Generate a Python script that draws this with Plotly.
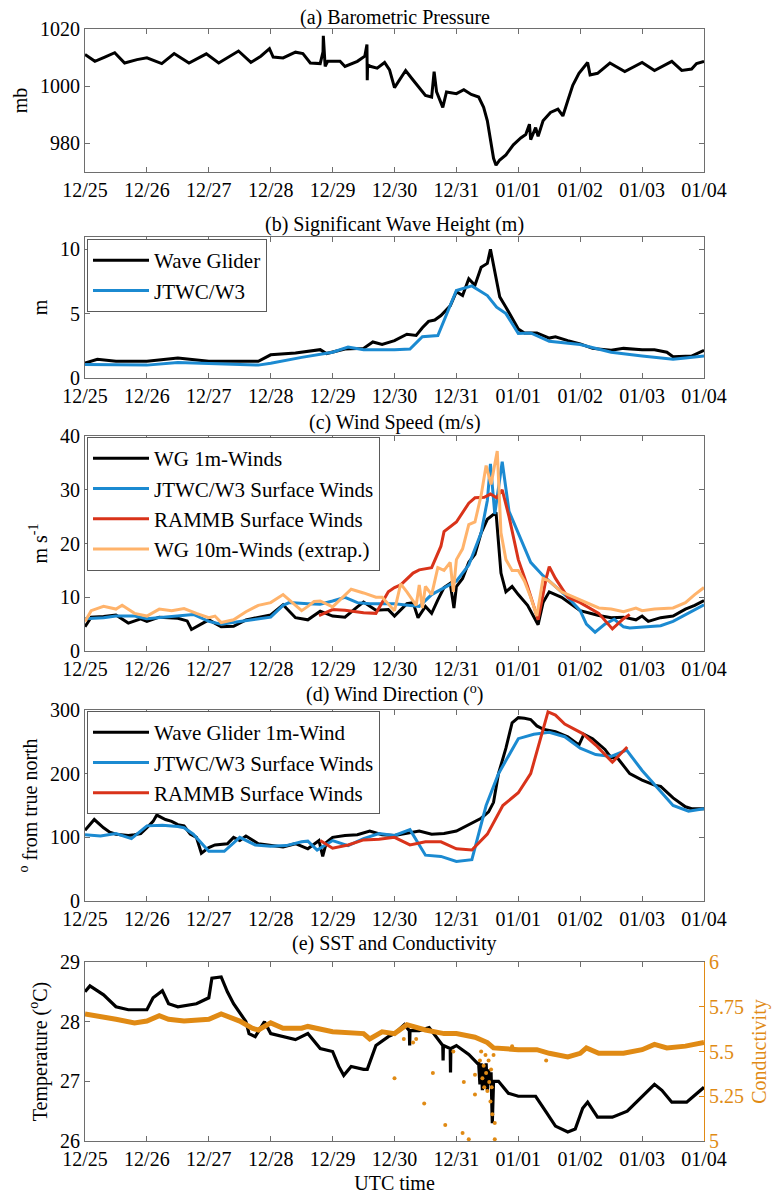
import numpy as np
import pandas as pd
import plotly.graph_objects as go

# ---------------------------------------------------------------------------
# Time base: all series are stored as fractional days since 12/25 00:00 UTC
# ---------------------------------------------------------------------------
T0 = pd.Timestamp("2015-12-25")

tick_days = list(range(11))
tick_labels = ["12/25", "12/26", "12/27", "12/28", "12/29", "12/30",
               "12/31", "01/01", "01/02", "01/03", "01/04"]

# (a) Barometric pressure, Wave Glider (mb)
pres_t = [0.0, 0.16, 0.32, 0.48, 0.64, 0.84, 1.0, 1.24, 1.44, 1.68, 1.96, 2.16,
          2.48, 2.68, 2.84, 2.98, 3.04, 3.2, 3.4, 3.52, 3.64, 3.8, 3.845, 3.85,
          3.88, 3.92, 4.12, 4.2, 4.4, 4.52, 4.555, 4.56, 4.565, 4.62, 4.72, 4.84,
          4.92, 5.0, 5.1, 5.18, 5.28, 5.4, 5.5, 5.6, 5.64, 5.68, 5.78, 5.84, 6.0,
          6.12, 6.24, 6.36, 6.44, 6.5, 6.56, 6.6, 6.64, 6.7, 6.8, 6.92, 7.04,
          7.12, 7.18, 7.2, 7.28, 7.32, 7.4, 7.52, 7.64, 7.72, 7.8, 7.88, 7.98,
          8.04, 8.12, 8.16, 8.28, 8.48, 8.72, 9.0, 9.2, 9.48, 9.64, 9.8, 9.88, 10.0]
pres_v = [1011.1, 1008.7, 1010.2, 1011.7, 1008.1, 1009.3, 1009.9, 1007.9, 1011.4,
          1008.1, 1011.3, 1008.1, 1012.3, 1008.3, 1010.5, 1013.1, 1010.2, 1009.9,
          1011.9, 1011.4, 1008.1, 1007.9, 1012.0, 1017.6, 1006.9, 1008.7, 1008.7,
          1006.9, 1008.7, 1010.5, 1014.6, 1002.1, 1007.5, 1006.9, 1006.3, 1008.3,
          1005.7, 999.5, 1002.7, 1005.5, 1002.7, 999.5, 996.8, 996.2, 1005.1,
          998.0, 992.6, 998.0, 997.4, 998.8, 997.1, 996.2, 992.6, 987.9, 980.7,
          974.8, 972.4, 974.2, 976.0, 979.5, 981.9, 983.1, 986.7, 981.3, 985.5,
          982.5, 987.9, 990.8, 992.0, 989.6, 995.0, 1000.3, 1004.5, 1006.3,
          1008.3, 1003.9, 1004.5, 1008.1, 1005.1, 1008.3, 1005.5, 1008.7, 1005.5,
          1006.0, 1007.9, 1008.7]

# (b) Significant wave height (m)
hs_wg_t = [0.0, 0.2, 0.5, 1.0, 1.5, 1.7, 2.0, 2.5, 2.8, 3.0, 3.4, 3.8, 3.9, 4.2,
           4.5, 4.65, 4.8, 5.0, 5.2, 5.35, 5.45, 5.55, 5.65, 5.75, 5.9, 6.0, 6.1,
           6.2, 6.3, 6.4, 6.5, 6.55, 6.6, 6.7, 6.8, 6.9, 7.0, 7.1, 7.3, 7.5, 7.6,
           7.8, 8.0, 8.2, 8.5, 8.7, 9.0, 9.2, 9.4, 9.5, 9.8, 10.0]
hs_wg_v = [1.15, 1.45, 1.3, 1.3, 1.55, 1.45, 1.3, 1.3, 1.3, 1.8, 1.95, 2.2, 1.9,
           2.25, 2.3, 2.8, 2.6, 2.9, 3.4, 3.3, 3.9, 4.4, 4.5, 4.85, 5.6, 6.7, 6.4,
           7.7, 7.2, 8.6, 8.9, 10.0, 8.8, 6.3, 5.5, 4.6, 3.8, 3.5, 3.5, 3.1, 3.2,
           2.9, 2.65, 2.3, 2.15, 2.3, 2.2, 2.2, 2.0, 1.65, 1.7, 2.15]
hs_w3_t = [0.0, 0.5, 1.0, 1.5, 2.0, 2.5, 2.8, 3.0, 3.5, 4.0, 4.25, 4.5, 5.0, 5.25,
           5.45, 5.7, 6.0, 6.25, 6.5, 6.65, 6.8, 7.0, 7.2, 7.5, 8.0, 8.5, 9.0,
           9.5, 9.7, 10.0]
hs_w3_v = [1.05, 1.0, 1.0, 1.2, 1.15, 1.05, 1.0, 1.15, 1.6, 2.0, 2.4, 2.2, 2.2,
           2.25, 3.2, 3.3, 6.8, 7.15, 6.4, 5.5, 5.0, 3.45, 3.5, 2.85, 2.6, 2.0,
           1.7, 1.45, 1.55, 1.7]

# (c) Wind speed (m/s)
ws_wg1_t = [0.0, 0.1, 0.3, 0.5, 0.7, 0.9, 1.0, 1.2, 1.5, 1.65, 1.72, 2.0, 2.2,
            2.4, 2.6, 2.8, 3.0, 3.2, 3.4, 3.6, 3.8, 4.0, 4.2, 4.4, 4.5, 4.7, 4.9,
            5.0, 5.2, 5.3, 5.35, 5.38, 5.5, 5.6, 5.7, 5.8, 5.9, 5.96, 6.0, 6.1,
            6.2, 6.3, 6.4, 6.5, 6.64, 6.72, 6.8, 6.9, 7.0, 7.15, 7.32, 7.4, 7.5,
            7.7, 8.0, 8.3, 8.5, 8.7, 8.9, 9.0, 9.1, 9.3, 9.5, 9.7, 9.85, 10.0]
ws_wg1_v = [4.5, 6.3, 6.4, 6.7, 5.2, 6.0, 5.5, 6.3, 6.1, 5.6, 4.0, 5.8, 4.5, 4.6,
            5.8, 6.3, 6.7, 8.6, 6.2, 5.8, 7.4, 6.5, 6.3, 8.2, 9.1, 7.6, 7.7, 6.5,
            8.8, 9.0, 7.0, 6.2, 8.3, 7.0, 9.5, 11.8, 12.6, 8.0, 12.0, 13.5, 16.5,
            18.0, 22.0, 24.5, 25.8, 14.5, 11.0, 12.0, 10.5, 8.5, 4.9, 9.0, 11.0,
            10.0, 7.5, 6.6, 6.2, 6.3, 5.8, 6.5, 5.5, 6.2, 6.5, 7.8, 8.5, 9.4]
ws_w3_t = [0.0, 0.3, 0.5, 0.8, 1.0, 1.5, 1.75, 2.0, 2.2, 2.5, 3.0, 3.2, 3.3, 3.6,
           3.8, 4.0, 4.2, 4.4, 4.6, 5.0, 5.3, 5.4, 5.6, 6.0, 6.2, 6.4, 6.5, 6.55,
           6.62, 6.74, 6.85, 7.0, 7.2, 7.4, 7.6, 7.8, 8.0, 8.1, 8.24, 8.4, 8.55,
           8.7, 8.8, 9.0, 9.3, 9.5, 9.7, 10.0]
ws_w3_v = [6.0, 6.2, 6.5, 6.5, 6.0, 6.5, 6.8, 5.5, 5.0, 5.5, 6.3, 8.5, 9.0, 8.8,
           8.7, 9.3, 10.0, 9.0, 8.8, 8.8, 8.5, 8.3, 10.5, 13.0, 16.0, 22.0, 28.0,
           34.8, 25.5, 35.2, 26.0, 22.0, 16.5, 14.0, 12.0, 10.0, 7.5, 5.0, 3.5,
           5.0, 5.9, 4.5, 4.3, 4.5, 4.7, 5.5, 6.8, 8.6]
ws_rammb_t = [3.78, 4.0, 4.2, 4.4, 4.5, 4.7, 4.8, 4.9, 5.0, 5.1, 5.3, 5.4, 5.6,
              5.75, 5.8, 6.0, 6.2, 6.3, 6.45, 6.55, 6.65, 6.74, 6.85, 7.0, 7.15,
              7.32, 7.45, 7.5, 7.6, 7.8, 8.0, 8.3, 8.52, 8.7, 8.8]
ws_rammb_v = [6.6, 7.7, 7.6, 7.2, 7.1, 7.0, 9.0, 11.0, 11.8, 12.3, 14.5, 15.1,
              15.5, 19.5, 22.2, 24.0, 27.5, 28.5, 28.6, 29.2, 28.5, 30.0, 25.0,
              17.0, 12.0, 5.8, 13.5, 15.7, 13.5, 10.0, 9.0, 7.0, 4.1, 6.0, 6.8]
ws_wg10_t = [0.0, 0.1, 0.3, 0.5, 0.6, 0.8, 1.0, 1.2, 1.4, 1.6, 1.8, 2.0, 2.1, 2.2,
             2.4, 2.6, 2.8, 3.0, 3.2, 3.4, 3.5, 3.6, 3.7, 3.8, 4.0, 4.2, 4.3, 4.5,
             4.7, 4.8, 5.0, 5.1, 5.2, 5.35, 5.4, 5.45, 5.5, 5.6, 5.7, 5.8, 5.9,
             5.95, 6.0, 6.1, 6.2, 6.3, 6.4, 6.48, 6.56, 6.66, 6.72, 6.8, 6.9, 7.0,
             7.1, 7.2, 7.3, 7.4, 7.5, 7.7, 8.0, 8.3, 8.5, 8.7, 8.9, 9.0, 9.2, 9.5,
             9.7, 9.85, 10.0]
ws_wg10_v = [5.5, 7.5, 8.3, 7.8, 8.5, 7.0, 6.5, 7.8, 7.5, 7.9, 7.0, 6.2, 6.5, 5.3,
             5.8, 7.3, 8.5, 9.0, 10.5, 8.5, 7.5, 8.3, 9.2, 9.3, 8.2, 10.4, 11.5,
             10.8, 10.0, 10.0, 7.5, 12.5, 11.0, 8.5, 12.3, 8.0, 12.0, 10.5, 15.5,
             15.0, 16.5, 11.0, 17.0, 19.0, 23.5, 24.0, 29.0, 34.5, 31.0, 37.2,
             22.0, 17.0, 15.0, 15.0, 13.0, 10.0, 6.5, 13.5, 13.0, 11.0, 9.5, 8.0,
             7.8, 7.3, 8.0, 7.5, 7.8, 8.0, 9.0, 10.5, 11.8]

# (d) Wind direction (degrees from true north)
wd_wg_t = [0.0, 0.1, 0.15, 0.3, 0.4, 0.5, 0.7, 0.8, 0.9, 1.0, 1.1, 1.16, 1.3,
           1.4, 1.5, 1.6, 1.65, 1.7, 1.8, 1.88, 2.0, 2.1, 2.3, 2.4, 2.5, 2.6,
           2.8, 3.0, 3.2, 3.4, 3.6, 3.78, 3.84, 3.9, 4.0, 4.2, 4.4, 4.6, 4.8,
           5.0, 5.2, 5.4, 5.6, 5.8, 6.0, 6.2, 6.4, 6.52, 6.6, 6.68, 6.8, 6.9,
           7.0, 7.1, 7.2, 7.3, 7.4, 7.5, 7.6, 7.8, 7.98, 8.06, 8.2, 8.4, 8.5,
           8.6, 8.8, 9.0, 9.2, 9.3, 9.5, 9.7, 9.8, 10.0]
wd_wg_v = [111, 122, 128, 115, 108, 105, 103, 104, 106, 115, 125, 135, 128, 125,
           120, 118, 112, 105, 100, 75, 84, 88, 90, 100, 95, 102, 90, 88, 85, 90,
           82, 95, 70, 92, 100, 103, 104, 110, 104, 103, 107, 110, 105, 106, 110,
           120, 130, 140, 155, 200, 240, 280, 288, 287, 285, 275, 270, 268, 266,
           258, 245, 262, 255, 238, 225, 225, 200, 190, 182, 180, 162, 148, 145,
           145]
wd_w3_t = [0.0, 0.25, 0.5, 0.75, 1.0, 1.25, 1.5, 1.6, 1.75, 2.0, 2.25, 2.5, 2.75,
           3.0, 3.25, 3.5, 3.6, 3.75, 4.0, 4.25, 4.5, 4.75, 5.0, 5.25, 5.5, 5.75,
           6.0, 6.25, 6.48, 6.68, 7.0, 7.25, 7.5, 7.75, 8.0, 8.25, 8.5, 8.75,
           9.0, 9.25, 9.5, 9.75, 10.0]
wd_w3_v = [104, 102, 106, 98, 118, 119, 117, 115, 105, 78, 78, 100, 88, 86, 87,
           93, 94, 80, 95, 87, 98, 106, 103, 112, 72, 70, 62, 65, 150, 200, 255,
           262, 265, 258, 240, 230, 227, 237, 205, 178, 150, 141, 145]
wd_rammb_t = [3.8, 4.0, 4.25, 4.5, 4.75, 5.0, 5.25, 5.5, 5.75, 6.0, 6.25, 6.5,
              6.75, 7.0, 7.2, 7.48, 7.6, 7.75, 8.04, 8.25, 8.52, 8.76]
wd_rammb_v = [95, 83, 88, 96, 97, 100, 88, 93, 93, 82, 80, 105, 150, 170, 200,
              297, 292, 278, 263, 245, 218, 242]

# (e) Sea surface temperature (deg C)
sst_t = [0.0, 0.08, 0.3, 0.5, 0.7, 1.0, 1.1, 1.25, 1.35, 1.5, 1.8, 2.0, 2.05,
         2.2, 2.3, 2.4, 2.6, 2.65, 2.75, 2.9, 3.0, 3.2, 3.4, 3.6, 3.8, 4.0, 4.1,
         4.18, 4.3, 4.5, 4.56, 4.7, 4.9, 5.0, 5.16, 5.24, 5.245, 5.25, 5.4,
         5.56, 5.78, 5.785, 5.79, 5.9, 5.905, 5.91, 6.0, 6.2, 6.34, 6.36, 6.38,
         6.4, 6.42, 6.44, 6.46, 6.48, 6.5, 6.52, 6.54, 6.56, 6.58, 6.6, 6.68,
         6.84, 7.0, 7.28, 7.44, 7.6, 7.8, 7.92, 8.04, 8.12, 8.28, 8.52, 8.76,
         9.0, 9.2, 9.32, 9.48, 9.72, 10.0]
sst_v = [28.5, 28.6, 28.45, 28.25, 28.2, 28.2, 28.4, 28.52, 28.3, 28.25, 28.3,
         28.4, 28.73, 28.75, 28.5, 28.3, 28.0, 27.8, 27.75, 28.0, 27.8, 27.75,
         27.7, 27.8, 27.55, 27.5, 27.25, 27.1, 27.25, 27.2, 27.2, 27.6, 27.75,
         27.8, 27.95, 27.85, 27.6, 27.85, 27.85, 27.9, 27.6, 27.35, 27.6, 27.55,
         27.15, 27.55, 27.6, 27.45, 27.3, 27.3, 26.95, 27.3, 26.85, 27.25, 26.9,
         27.3, 26.85, 27.2, 26.95, 27.15, 26.3, 27.0, 27.0, 26.8, 26.75, 26.75,
         26.5, 26.25, 26.15, 26.2, 26.55, 26.65, 26.4, 26.4, 26.5, 26.75, 26.95,
         26.85, 26.65, 26.65, 26.9]

# (e) Conductivity: continuous record and isolated low readings
cond_t = [0.0, 0.2, 0.5, 0.8, 1.0, 1.2, 1.35, 1.6, 2.0, 2.2, 2.35, 2.5, 2.7, 2.8,
          3.0, 3.2, 3.5, 3.6, 4.0, 4.5, 4.6, 4.8, 5.0, 5.2, 5.5, 5.8, 6.0, 6.3,
          6.5, 6.6, 7.0, 7.3, 7.5, 7.8, 8.0, 8.1, 8.3, 8.7, 9.0, 9.2, 9.4, 9.7,
          10.0]
cond_v = [5.71, 5.70, 5.68, 5.66, 5.67, 5.70, 5.68, 5.67, 5.68, 5.71, 5.69, 5.67,
          5.63, 5.62, 5.66, 5.63, 5.63, 5.64, 5.61, 5.60, 5.57, 5.61, 5.60, 5.65,
          5.62, 5.60, 5.60, 5.58, 5.55, 5.52, 5.51, 5.51, 5.49, 5.47, 5.49, 5.52,
          5.49, 5.49, 5.51, 5.54, 5.52, 5.53, 5.55]
cond_out_t = [5.0, 5.15, 5.3, 5.35, 5.48, 5.62, 5.82, 5.95, 6.1, 6.2, 6.12, 6.3,
              6.3, 6.38, 6.4, 6.42, 6.44, 6.45, 6.47, 6.48, 6.5, 6.52, 6.53, 6.55,
              6.56, 6.57, 6.58, 6.6, 6.62, 6.62, 6.7, 6.9, 7.45]
cond_out_v = [5.35, 5.57, 5.55, 5.57, 5.21, 5.38, 5.09, 5.5, 5.045, 5.01, 5.33,
              5.37, 5.26, 5.45, 5.5, 5.35, 5.42, 5.3, 5.48, 5.38, 5.28, 5.45, 5.33,
              5.22, 5.4, 5.3, 5.15, 5.48, 5.01, 5.1, 5.52, 5.53, 5.45]

# ---------------------------------------------------------------------------
def to_time(days):
    return T0 + pd.to_timedelta(np.asarray(days, dtype=float), unit="D")


BLACK = "#000000"
BLUE = "#1b8ad1"
RED = "#d9331a"
LIGHT_ORANGE = "#ffb36b"
COND = "#e08a14"
AXIS = "#6e6e6e"
FONT = "Liberation Serif, Times New Roman, serif"
FS = 20
W, H = 774, 1194

fig = go.Figure()


def add_line(days, vals, color, name, ax, legend=None, width=3):
    fig.add_trace(go.Scatter(
        x=to_time(days), y=vals, mode="lines", name=name,
        line=dict(color=color, width=width),
        xaxis="x" + ax, yaxis="y" + ax,
        showlegend=legend is not None, legend=legend or "legend"))


add_line(pres_t, pres_v, BLACK, "Pressure", "")
add_line(hs_wg_t, hs_wg_v, BLACK, "Wave Glider", "2", "legend")
add_line(hs_w3_t, hs_w3_v, BLUE, "JTWC/W3", "2", "legend")
add_line(ws_wg1_t, ws_wg1_v, BLACK, "WG 1m-Winds", "3", "legend2")
add_line(ws_w3_t, ws_w3_v, BLUE, "JTWC/W3 Surface Winds", "3", "legend2")
add_line(ws_rammb_t, ws_rammb_v, RED, "RAMMB Surface Winds", "3", "legend2")
add_line(ws_wg10_t, ws_wg10_v, LIGHT_ORANGE, "WG 10m-Winds (extrap.)", "3", "legend2")
add_line(wd_wg_t, wd_wg_v, BLACK, "Wave Glider 1m-Wind", "4", "legend3")
add_line(wd_w3_t, wd_w3_v, BLUE, "JTWC/W3 Surface Winds", "4", "legend3")
add_line(wd_rammb_t, wd_rammb_v, RED, "RAMMB Surface Winds", "4", "legend3")
add_line(sst_t, sst_v, BLACK, "SST", "5", width=3.2)

fig.add_trace(go.Scatter(
    x=to_time(cond_t), y=cond_v, mode="lines", name="Conductivity",
    line=dict(color=COND, width=5), xaxis="x5", yaxis="y6", showlegend=False))
fig.add_trace(go.Scatter(
    x=to_time(cond_out_t), y=cond_out_v, mode="markers", name="Conductivity",
    marker=dict(color=COND, size=4), xaxis="x5", yaxis="y6", showlegend=False))

# Panel boxes in pixel rows (top, bottom)
panels = [(29, 172), (237, 378), (436, 651), (710, 901), (962, 1141)]
x_dom = [85 / W, 704 / W]


def ydom(top, bottom):
    return [1 - bottom / H, 1 - top / H]


tick_times = to_time(tick_days)
x_range = [to_time([0])[0], to_time([10])[0]]
base_axis = dict(showline=True, linecolor=AXIS, linewidth=1, ticks="inside",
                 ticklen=5, tickcolor=AXIS, showgrid=False, zeroline=False,
                 automargin=False,
                 tickfont=dict(family=FONT, size=FS, color="black"))

layout = {}
y_specs = [
    dict(range=[970, 1020], tickvals=[980, 1000, 1020], title="mb"),
    dict(range=[0, 10.95], tickvals=[0, 5, 10], title="m"),
    dict(range=[0, 40], tickvals=[0, 10, 20, 30, 40], title="m s<sup>-1</sup>"),
    dict(range=[0, 300], tickvals=[0, 100, 200, 300],
         title="<sup>o</sup> from true north"),
    dict(range=[26, 29], tickvals=[26, 27, 28, 29],
         title="Temperature (<sup>o</sup>C)"),
]
for i, ((top, bot), ys) in enumerate(zip(panels, y_specs)):
    sfx = "" if i == 0 else str(i + 1)
    xa = dict(base_axis, domain=x_dom, anchor="y" + sfx, type="date",
              range=x_range, tickvals=tick_times, ticktext=tick_labels,
              mirror="ticks")
    if i == 4:
        xa["title"] = dict(text="UTC time", font=dict(family=FONT, size=FS),
                           standoff=12)
    ya = dict(base_axis, domain=ydom(top, bot), anchor="x" + sfx,
              range=ys["range"], tickvals=ys["tickvals"],
              title=dict(text=ys["title"], font=dict(family=FONT, size=FS),
                         standoff=7),
              mirror="ticks" if i < 4 else False)
    layout["xaxis" + sfx] = xa
    layout["yaxis" + sfx] = ya

layout["yaxis6"] = dict(
    base_axis, overlaying="y5", side="right", anchor="x5", range=[5, 6],
    tickvals=[5, 5.25, 5.5, 5.75, 6], ticktext=["5", "5.25", "5.5", "5.75", "6"],
    linecolor=COND, tickcolor=COND,
    tickfont=dict(family=FONT, size=FS, color=COND),
    title=dict(text="Conductivity", font=dict(family=FONT, size=FS, color=COND),
               standoff=8))

# Panel titles
titles = ["(a) Barometric Pressure", "(b) Significant Wave Height (m)",
          "(c) Wind Speed (m/s)", "(d) Wind Direction (<sup>o</sup>)",
          "(e) SST and Conductivity"]
title_rows = [17, 225, 422, 693, 943]
annotations = [dict(text=t, x=(x_dom[0] + x_dom[1]) / 2, y=1 - r / H,
                    xref="paper", yref="paper", xanchor="center",
                    yanchor="middle", showarrow=False,
                    font=dict(family=FONT, size=FS, color="black"))
               for t, r in zip(titles, title_rows)]

legend_style = dict(bgcolor="white", bordercolor="#5a5a5a", borderwidth=1,
                    font=dict(family=FONT, size=FS + 1, color="black"),
                    xanchor="left", yanchor="top", x=87 / W,
                    tracegroupgap=0, itemwidth=56)

fig.update_layout(
    width=W, height=H, margin=dict(l=0, r=0, t=0, b=0),
    paper_bgcolor="white", plot_bgcolor="white",
    font=dict(family=FONT, size=FS, color="black"),
    annotations=annotations,
    legend=dict(legend_style, y=1 - 239 / H),
    legend2=dict(legend_style, y=1 - 437 / H),
    legend3=dict(legend_style, y=1 - 711 / H),
    **layout,
)

fig.write_html("out.html")
